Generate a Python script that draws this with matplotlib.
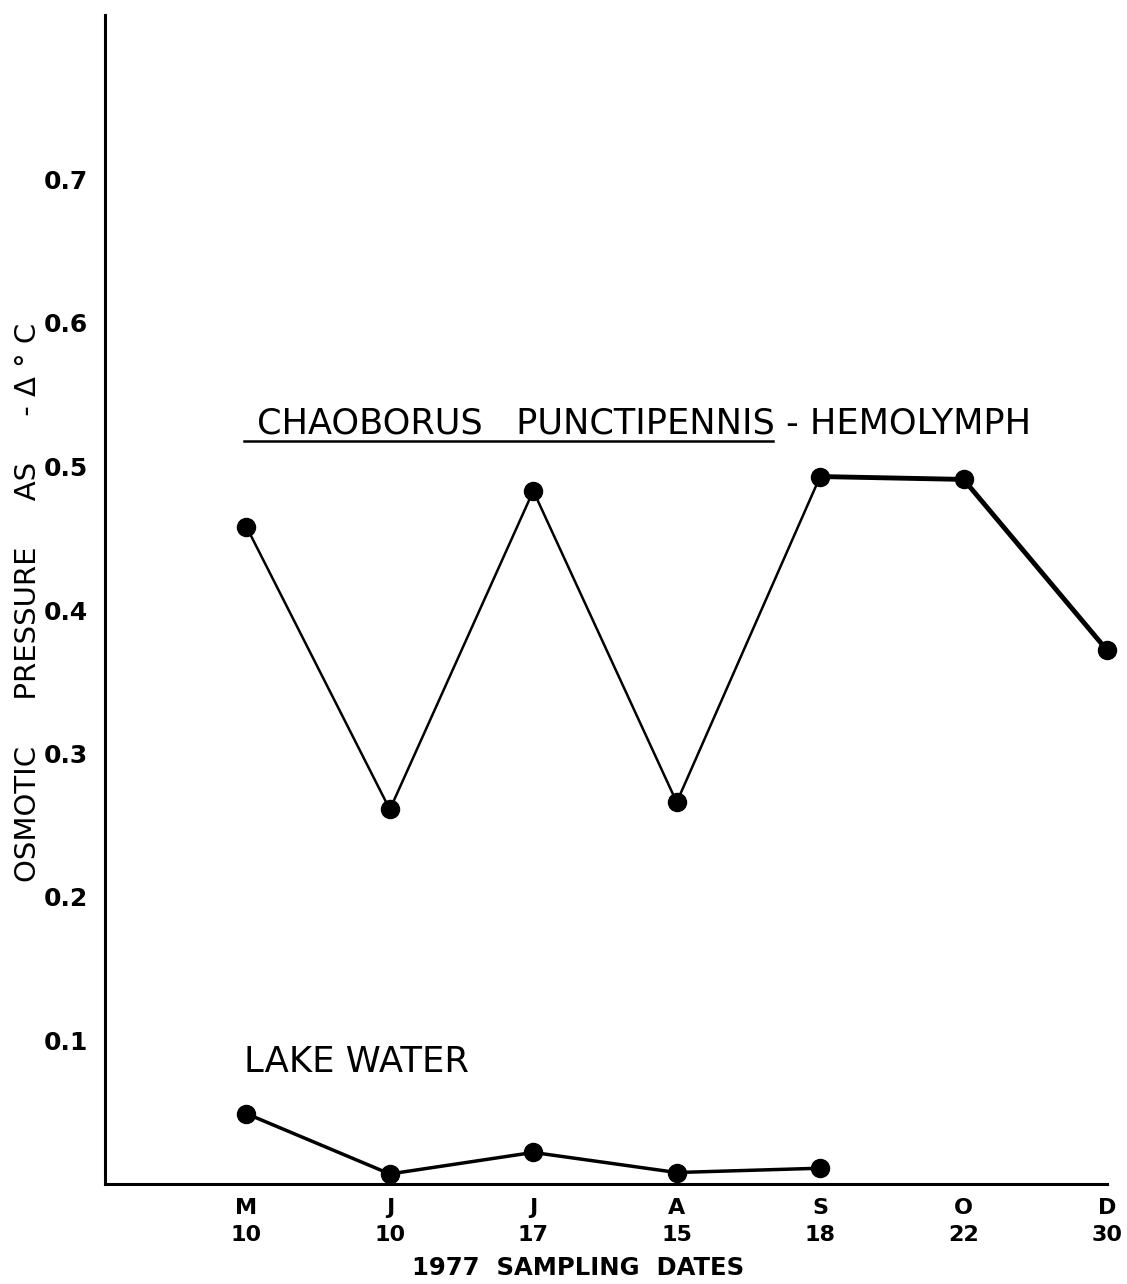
import matplotlib
matplotlib.use("Agg")
import matplotlib.pyplot as plt

# sampling dates (month initial / day), evenly spaced on the axis
months = ["M", "J", "J", "A", "S", "O", "D"]
days = ["10", "10", "17", "15", "18", "22", "30"]

# osmotic pressure as -delta deg C
hemolymph = [0.458, 0.261, 0.483, 0.266, 0.493, 0.491, 0.372]
lake_water = [0.049, 0.007, 0.022, 0.008, 0.011]

ytick_vals = [0.1, 0.2, 0.3, 0.4, 0.5, 0.6, 0.7]
ytick_labels = ["0.1", "0.2", "0.3", "0.4", "0.5", "0.6", "0.7"]

W, H = 1127, 1284
fig = plt.figure(figsize=(W / 100, H / 100), dpi=100)
ax = fig.add_axes([105 / W, 1 - 1184 / H, (1107 - 105) / W, (1184 - 15) / H])

x = list(range(len(months)))

# thin part of the hemolymph curve, then the heavier last segments
ax.plot(x[:5], hemolymph[:5], color="black", lw=1.8, clip_on=False)
ax.plot(x[4:], hemolymph[4:], color="black", lw=3.5, clip_on=False)
ax.plot(x, hemolymph, "o", color="black", ms=13, clip_on=False)

ax.plot(x[:len(lake_water)], lake_water, "-o", color="black", lw=2.5, ms=13,
        clip_on=False)

ax.set_xlim(-0.986, 5.97)
ax.set_ylim(0, (1184 - 15) / 1435)

for s in ["top", "right"]:
    ax.spines[s].set_visible(False)
ax.spines["left"].set_linewidth(2.2)
ax.spines["bottom"].set_linewidth(2.2)

ax.set_xticks(x)
ax.set_xticklabels([m + "\n" + d for m, d in zip(months, days)],
                   fontsize=16, fontweight="bold", linespacing=1.45)
ax.set_yticks(ytick_vals)
ax.set_yticklabels(ytick_labels, fontsize=18, fontweight="bold")
ax.tick_params(axis="both", length=0)
ax.tick_params(axis="x", pad=10)
ax.tick_params(axis="y", pad=12)

# series labels
ax.text(0.076, 0.523, "CHAOBORUS   PUNCTIPENNIS - HEMOLYMPH", fontsize=25.3,
        ha="left", va="baseline")
ax.plot([-0.014, 3.67], [0.518, 0.518], color="black", lw=1.8)
ax.text(-0.014, 0.078, "LAKE WATER", fontsize=25.5, ha="left", va="baseline")

fig.text(28 / W, 1 - 602 / H, "OSMOTIC     PRESSURE     AS     - \u0394 \u00b0 C",
         rotation=90, fontsize=21, ha="center", va="center")
fig.text(578 / W, 1 - 1268 / H, "1977  SAMPLING  DATES", fontsize=17.5,
         fontweight="bold", ha="center", va="center")

fig.savefig("out.png", dpi=100, facecolor="white")
